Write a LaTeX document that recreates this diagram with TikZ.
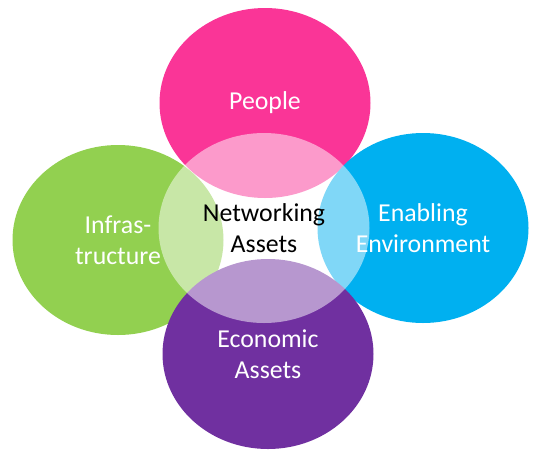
\documentclass[tikz,border=0pt]{standalone}
\usepackage{fontspec}
\setmainfont{Carlito}
\usetikzlibrary{shapes.geometric,positioning}
\definecolor{rozsa}{HTML}{FA3597}
\definecolor{zold}{HTML}{92D050}
\definecolor{kek}{HTML}{00B0F0}
\definecolor{lila}{HTML}{7030A0}
\tikzset{
  blob/.style={ellipse,minimum width=211pt,minimum height=190pt,inner sep=0pt,
    align=center,text=white,font=\fontsize{25.8}{31}\selectfont},
  core/.style={blob,fill=white,fill opacity=0.5,text opacity=1,text=black},
}

\begin{document}
\begin{tikzpicture}[x=1pt,y=-1pt]
  \useasboundingbox (0,0) rectangle (540,456);
  \node[blob,fill=rozsa] (people) at (265,103) {People};
  \node[blob,fill=zold] (infra) at (118,240) {Infras-\\tructure};
  \node[blob,fill=kek] (enab) at (423,228) {Enabling\\Environment};
  \node[blob,fill=lila] (econ) at (268,354) {Economic\\Assets};
  % white overlay in the middle
  \node[core] (net) at (264,228) {Networking\\Assets};
\end{tikzpicture}
\end{document}
